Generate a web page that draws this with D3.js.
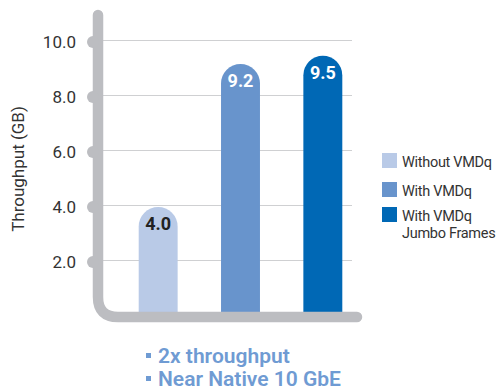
<!DOCTYPE html>
<html>
<head>
<meta charset="utf-8">
<script src="https://cdn.jsdelivr.net/npm/d3@7"></script>
<style>
  html, body { margin: 0; padding: 0; background: #fff; }
  svg text { font-family: "Roboto", sans-serif; }
</style>
</head>
<body>
<div id="chart"></div>
<script>
// data
const categories = ['Without VMDq', 'With VMDq', 'With VMDq\nJumbo Frames']
const values = [4.0, 9.2, 9.5]
const barColors = ['#b9cae7', '#6894cc', '#0068b5']
const labelColors = ['#222', '#fff', '#fff']
const yTicks = [2, 4, 6, 8, 10]
const notes = ['2x throughput', 'Near Native 10 GbE']

const width = 500
const height = 389
const axisColor = '#bcbdc1'

const svg = d3.select('#chart').append('svg')
  .attr('width', width)
  .attr('height', height)

const x = d3.scaleBand()
  .domain(categories)
  .range([114, 367])
  .paddingInner(0.527)
  .paddingOuter(0.3)

const y = d3.scaleLinear()
  .domain([0, 10])
  .range([317, 42])

// grid lines
svg.append('g')
  .selectAll('line')
  .data(yTicks)
  .join('line')
  .attr('x1', 103)
  .attr('x2', 352)
  .attr('y1', d => y(d) - 1.5)
  .attr('y2', d => y(d) - 1.5)
  .attr('stroke', '#cfd0d2')
  .attr('stroke-width', 1)

// bars with rounded tops
const bw = x.bandwidth()
const barPath = (d, i) => {
  const x0 = x(categories[i])
  const r = bw / 2
  const top = y(d) + r
  return `M${x0},${y(0)} L${x0},${top} A${r},${r} 0 0 1 ${x0 + bw},${top} L${x0 + bw},${y(0)} Z`
}

svg.append('g')
  .selectAll('path')
  .data(values)
  .join('path')
  .attr('d', barPath)
  .attr('fill', (d, i) => barColors[i])

svg.append('g')
  .selectAll('text')
  .data(values)
  .join('text')
  .attr('x', (d, i) => x(categories[i]) + bw / 2)
  .attr('y', d => y(d) + 23)
  .attr('text-anchor', 'middle')
  .attr('font-size', 18)
  .attr('font-weight', 'bold')
  .attr('fill', (d, i) => labelColors[i])
  .text(d => d.toFixed(1))

// the thick rounded axis
const corner = 20
const axisPath = d3.path()
axisPath.moveTo(98, 15)
axisPath.lineTo(98, y(0) - corner)
axisPath.quadraticCurveTo(98, y(0), 98 + corner, y(0))
axisPath.lineTo(357, y(0))

svg.append('path')
  .attr('d', axisPath.toString())
  .attr('fill', 'none')
  .attr('stroke', axisColor)
  .attr('stroke-width', 10.5)
  .attr('stroke-linecap', 'round')

// little bumps where the ticks sit
svg.append('g')
  .selectAll('circle')
  .data(yTicks)
  .join('circle')
  .attr('cx', 93)
  .attr('cy', d => y(d))
  .attr('r', 6)
  .attr('fill', axisColor)

// tick labels
svg.append('g')
  .selectAll('text')
  .data(yTicks)
  .join('text')
  .attr('x', 76)
  .attr('y', d => y(d) + 6)
  .attr('text-anchor', 'end')
  .attr('font-size', 17)
  .attr('fill', '#333')
  .text(d => d.toFixed(1))

svg.append('text')
  .attr('transform', 'translate(24,169) rotate(-90)')
  .attr('text-anchor', 'middle')
  .attr('font-size', 17)
  .attr('fill', '#333')
  .text('Throughput (GB)')

// legend
const legendY = [153, 182, 207]
const legend = svg.append('g')
categories.forEach((c, i) => {
  legend.append('rect')
    .attr('x', 382)
    .attr('y', legendY[i])
    .attr('width', 15)
    .attr('height', 15)
    .attr('fill', barColors[i])
  c.split('\n').forEach((line, j) => {
    legend.append('text')
      .attr('x', 402)
      .attr('y', legendY[i] + 14 + j * 17)
      .attr('font-size', 14.5)
      .attr('letter-spacing', -0.3)
      .attr('fill', '#333')
      .text(line)
  })
})

// notes under the chart
const noteG = svg.append('g')
notes.forEach((n, i) => {
  noteG.append('rect')
    .attr('x', 146)
    .attr('y', 353 + i * 23)
    .attr('width', 5)
    .attr('height', 5)
    .attr('fill', '#6f9bd3')
  noteG.append('text')
    .attr('x', 158)
    .attr('y', 362.5 + i * 23)
    .attr('font-size', 21)
    .attr('font-weight', 600)
    .attr('fill', '#6f9bd3')
    .text(n)
})
</script>
</body>
</html>
